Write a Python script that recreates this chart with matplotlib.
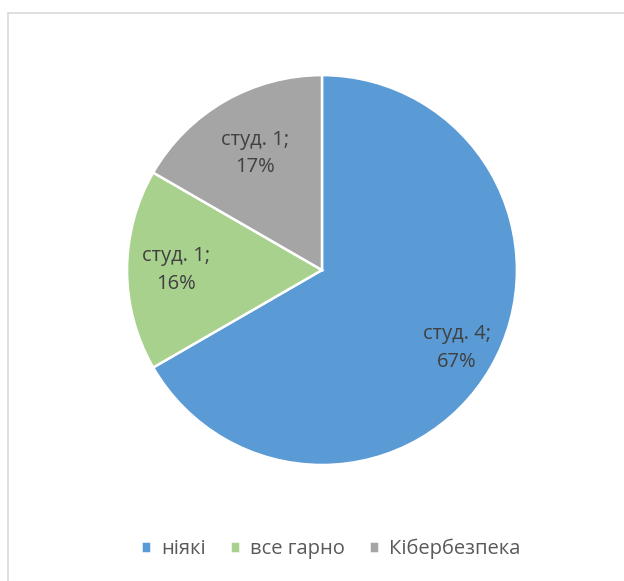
import numpy as np
import matplotlib.pyplot as plt
from matplotlib.patches import Rectangle

# Дані діаграми
categories = ["ніякі", "все гарно", "Кібербезпека"]
students = [4, 1, 1]
pct_labels = ["67%", "16%", "17%"]
colors = ["#5B9BD5", "#A9D18E", "#A5A5A5"]

plt.rcParams['font.family'] = ['Open Sans', 'DejaVu Sans']

fig = plt.figure(figsize=(6.24, 5.81), dpi=100)

# рамка навколо діаграми
fig.patches.append(Rectangle((8 / 624, -0.1), 1.2, 1 - 13 / 581 + 0.1,
                             transform=fig.transFigure, fill=False,
                             edgecolor="#D9D9D9", linewidth=1.2))

ax = fig.add_axes([0.2035, 0.1997, 0.625, 0.671])
wedges, _ = ax.pie(students, colors=colors, startangle=90, counterclock=False,
                   wedgeprops=dict(edgecolor="white", linewidth=1.8))
ax.set_xlim(-1, 1)
ax.set_ylim(-1, 1)
ax.set_aspect("equal")

# підписи всередині секторів
dist = [0.8, 0.75, 0.69]
for w, n, p, d in zip(wedges, students, pct_labels, dist):
    ang = np.deg2rad((w.theta1 + w.theta2) / 2)
    ax.text(d * np.cos(ang), d * np.sin(ang), f"студ. {n};\n{p}",
            ha="center", va="center", fontsize=14.5, color="#404040",
            linespacing=1.5)

fig.legend(wedges, categories, loc="center", bbox_to_anchor=(0.53, 1 - 549 / 581),
           ncol=3, frameon=False, fontsize=14.5, labelcolor="#595959",
           handlelength=0.5, handleheight=0.5, handletextpad=0.5, columnspacing=1.2)

fig.savefig("out.png", dpi=100)
